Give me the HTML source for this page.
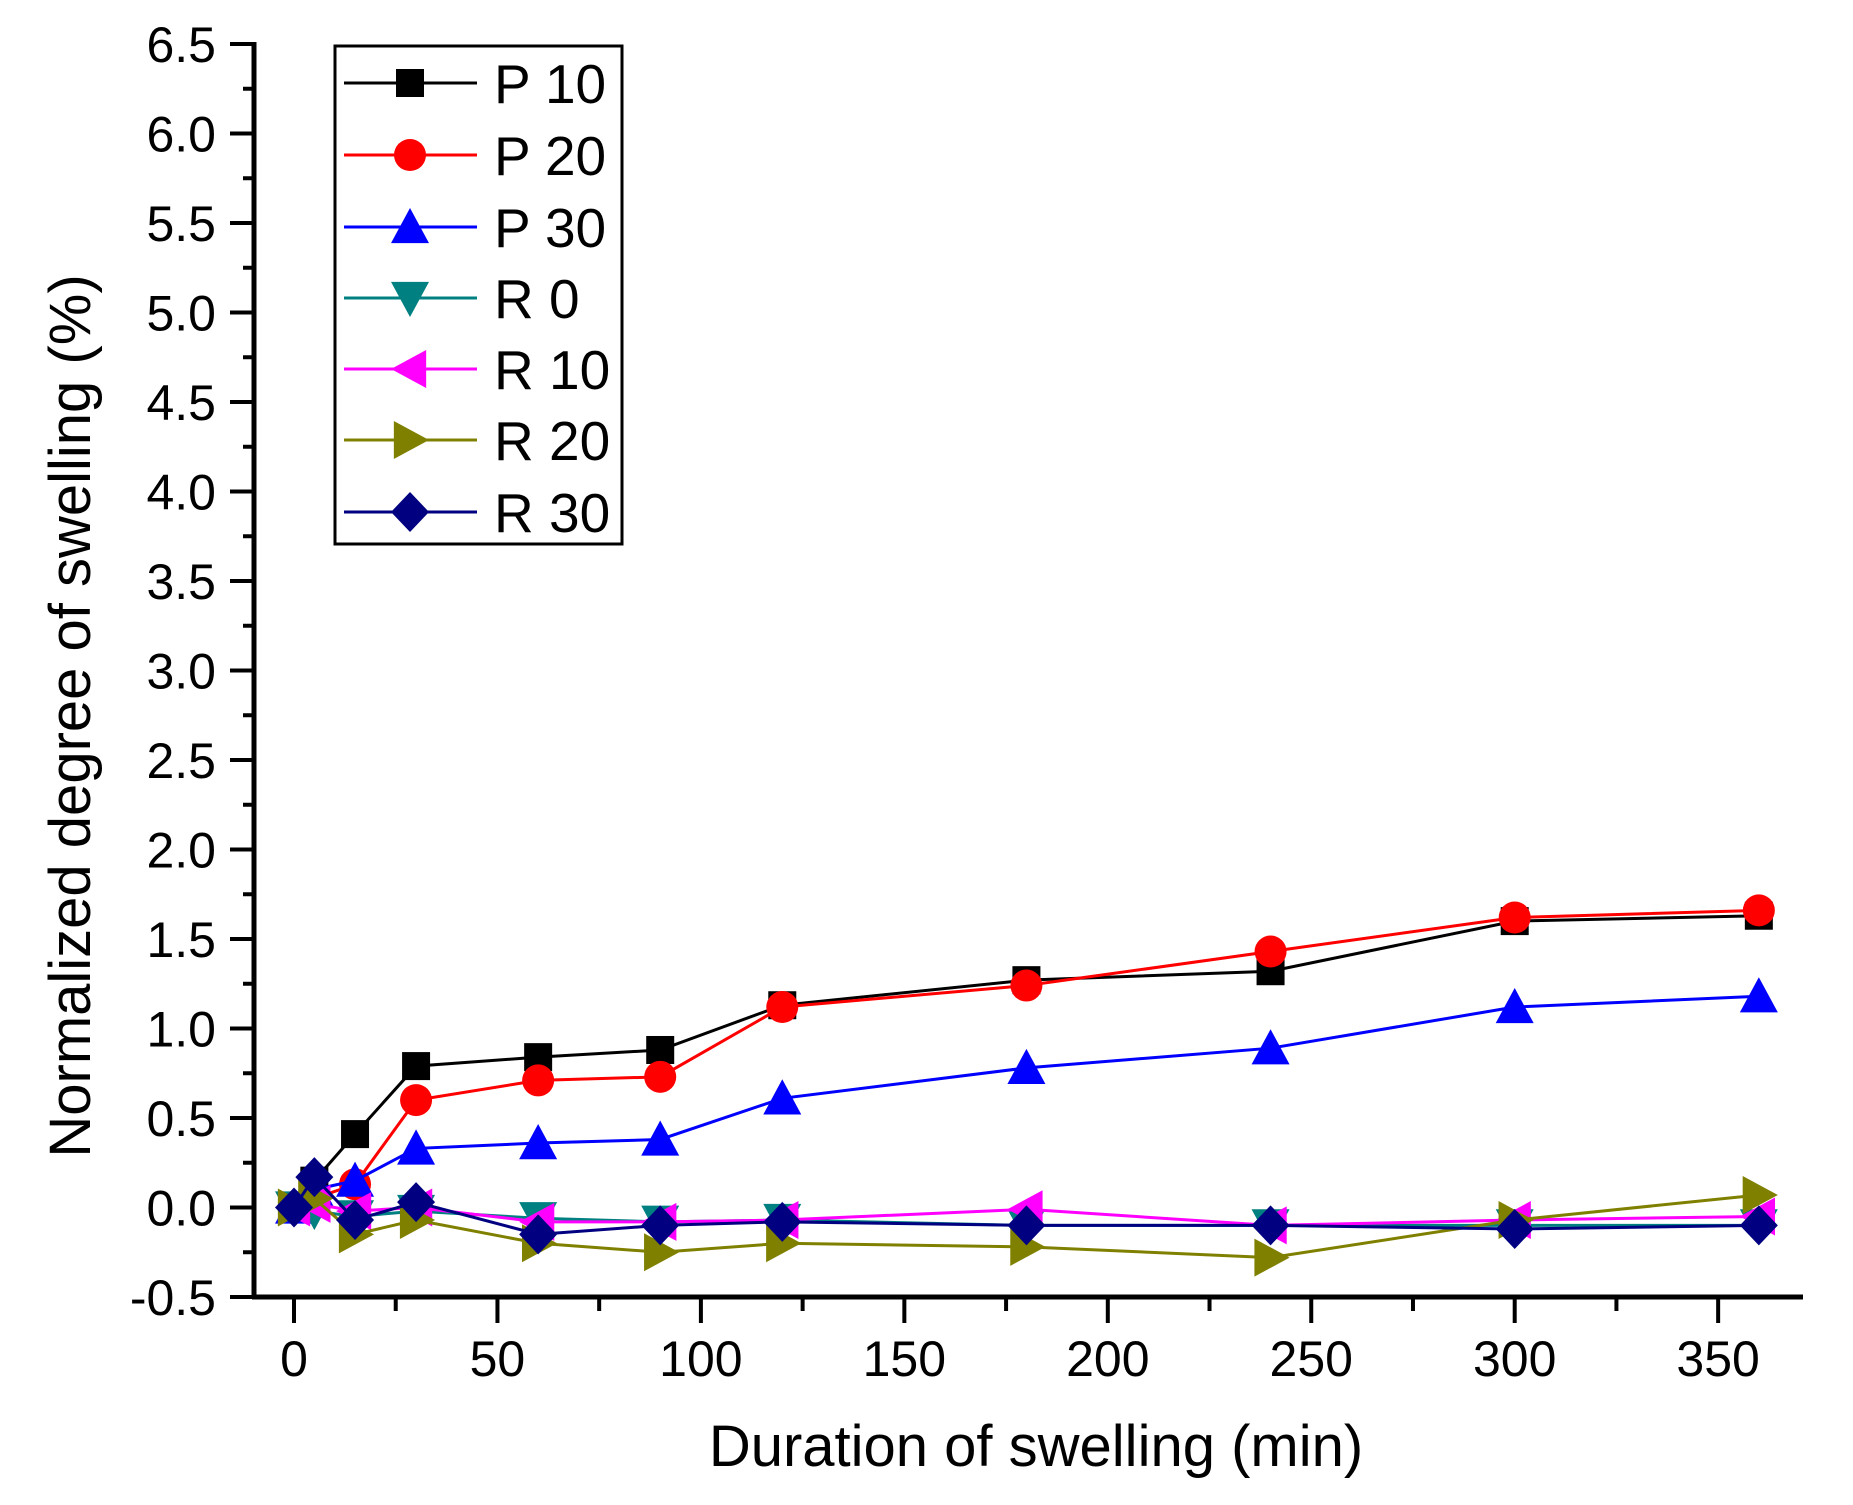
<!DOCTYPE html>
<html><head><meta charset="utf-8"><style>html,body{margin:0;padding:0;background:#fff}svg{display:block}</style></head>
<body>
<svg id="s" width="1853" height="1505" xmlns="http://www.w3.org/2000/svg" font-family="Liberation Sans, sans-serif"></svg>
<script>
const s=document.getElementById('s');
const X0=294,KX=4.069,Y0=1207.5,KY=179;
const px=v=>X0+v*KX, py=v=>Y0-v*KY;
let h='';
h+=`<line x1="254" y1="42" x2="254" y2="1299" stroke="#000" stroke-width="5"/>`;
h+=`<line x1="252" y1="1297" x2="1803" y2="1297" stroke="#000" stroke-width="5"/>`;
for(let i=0;i<=28;i++){const v=-0.5+i*0.25,y=py(v),maj=i%2==0;
 h+=`<line x1="${maj?230:243}" y1="${y}" x2="254" y2="${y}" stroke="#000" stroke-width="4"/>`;
 if(maj)h+=`<text x="216" y="${y+18}" font-size="50" text-anchor="end">${v.toFixed(1)}</text>`;}
for(let i=0;i<=14;i++){const v=i*25,x=px(v),maj=i%2==0;
 h+=`<line x1="${x}" y1="1297" x2="${x}" y2="${maj?1323:1311}" stroke="#000" stroke-width="4"/>`;
 if(maj)h+=`<text x="${x}" y="1376" font-size="50" text-anchor="middle">${v}</text>`;}
h+=`<text x="1036" y="1466" font-size="58" text-anchor="middle">Duration of swelling (min)</text>`;
h+=`<text transform="translate(90,716) rotate(-90)" font-size="58" text-anchor="middle">Normalized degree of swelling (%)</text>`;
const T=[0,5,15,30,60,90,120,180,240,300,360];
const S=[
['P 10','#000','sq',[0,0.15,0.41,0.79,0.84,0.88,1.13,1.27,1.32,1.60,1.63]],
['P 20','#f00','ci',[0,0.05,0.13,0.60,0.71,0.73,1.12,1.24,1.43,1.62,1.66]],
['P 30','#00f','up',[0,0.1,0.15,0.33,0.36,0.38,0.61,0.78,0.89,1.12,1.18]],
['R 0','#008080','dn',[0,-0.02,-0.05,-0.02,-0.06,-0.08,-0.07,-0.10,-0.10,-0.10,-0.10]],
['R 10','#f0f','lt',[0,0.02,-0.02,0.0,-0.08,-0.08,-0.07,-0.01,-0.10,-0.07,-0.05]],
['R 20','#808000','rt',[0,0.05,-0.15,-0.07,-0.20,-0.25,-0.20,-0.22,-0.28,-0.07,0.07]],
['R 30','#000080','di',[0,0.17,-0.07,0.03,-0.15,-0.10,-0.08,-0.10,-0.10,-0.12,-0.10]]];
function mk(t,x,y,c){const r=19;
 if(t=='sq')return `<rect x="${x-14}" y="${y-14}" width="28" height="28" fill="${c}"/>`;
 if(t=='ci')return `<circle cx="${x}" cy="${y}" r="16" fill="${c}"/>`;
 if(t=='up')return `<polygon points="${x},${y-r} ${x+r},${y+r*0.85} ${x-r},${y+r*0.85}" fill="${c}"/>`;
 if(t=='dn')return `<polygon points="${x},${y+r} ${x+r},${y-r*0.85} ${x-r},${y-r*0.85}" fill="${c}"/>`;
 if(t=='lt')return `<polygon points="${x-r},${y} ${x+r*0.85},${y-r} ${x+r*0.85},${y+r}" fill="${c}"/>`;
 if(t=='rt')return `<polygon points="${x+r},${y} ${x-r*0.85},${y-r} ${x-r*0.85},${y+r}" fill="${c}"/>`;
 return `<polygon points="${x},${y-20} ${x+19},${y} ${x},${y+20} ${x-19},${y}" fill="${c}"/>`;}
S.forEach(([n,c,t,d])=>{h+=`<polyline fill="none" stroke="${c}" stroke-width="3" points="${d.map((v,i)=>px(T[i])+','+py(v)).join(' ')}"/>`;
 d.forEach((v,i)=>h+=mk(t,px(T[i]),py(v),c));});
h+=`<rect x="335" y="46" width="287" height="498" fill="#fff" stroke="#000" stroke-width="3"/>`;
const LY=[83,155,227,298,369,440,512];
S.forEach(([n,c,t],i)=>{const y=LY[i];h+=`<line x1="344" y1="${y}" x2="477" y2="${y}" stroke="${c}" stroke-width="3"/>`+mk(t,410,y,c)+`<text x="494" y="${y+20}" font-size="55">${n}</text>`;});
s.innerHTML=h;
</script>
</body></html>
